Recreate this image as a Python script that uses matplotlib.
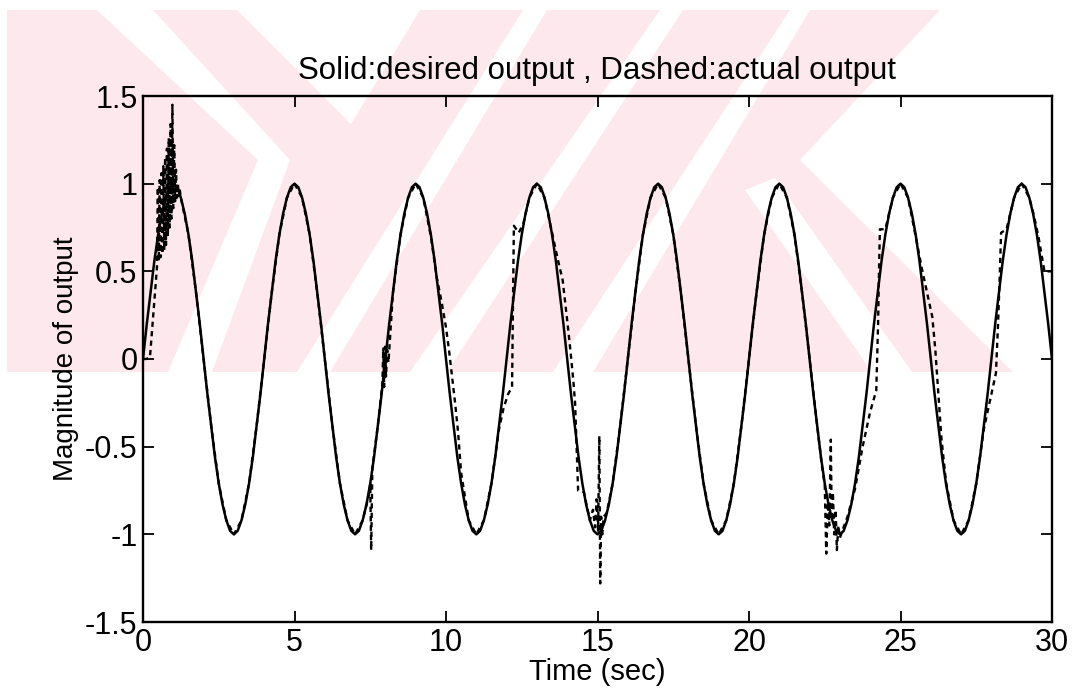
import matplotlib
matplotlib.use("Agg")
import matplotlib.pyplot as plt
from matplotlib.patches import Polygon

plt.rcParams['font.family'] = ['Liberation Sans', 'DejaVu Sans']
plt.rcParams['axes.unicode_minus'] = False

# desired output, read every 0.125 sec
t_des = [i * 0.125 for i in range(241)]
y_des = [0.00, 0.20, 0.38, 0.56, 0.71, 0.83, 0.92, 0.98, 1.00, 0.98, 0.92, 0.83, 0.71, 0.56, 0.38, 0.20,
         0.00, -0.20, -0.38, -0.56, -0.71, -0.83, -0.92, -0.98, -1.00, -0.98, -0.92, -0.83, -0.71, -0.56, -0.38, -0.20,
         0.00, 0.20, 0.38, 0.56, 0.71, 0.83, 0.92, 0.98, 1.00, 0.98, 0.92, 0.83, 0.71, 0.56, 0.38, 0.20,
         0.00, -0.20, -0.38, -0.56, -0.71, -0.83, -0.92, -0.98, -1.00, -0.98, -0.92, -0.83, -0.71, -0.56, -0.38, -0.20,
         0.00, 0.20, 0.38, 0.56, 0.71, 0.83, 0.92, 0.98, 1.00, 0.98, 0.92, 0.83, 0.71, 0.56, 0.38, 0.20,
         0.00, -0.20, -0.38, -0.56, -0.71, -0.83, -0.92, -0.98, -1.00, -0.98, -0.92, -0.83, -0.71, -0.56, -0.38, -0.20,
         0.00, 0.20, 0.38, 0.56, 0.71, 0.83, 0.92, 0.98, 1.00, 0.98, 0.92, 0.83, 0.71, 0.56, 0.38, 0.20,
         0.00, -0.20, -0.38, -0.56, -0.71, -0.83, -0.92, -0.98, -1.00, -0.98, -0.92, -0.83, -0.71, -0.56, -0.38, -0.20,
         0.00, 0.20, 0.38, 0.56, 0.71, 0.83, 0.92, 0.98, 1.00, 0.98, 0.92, 0.83, 0.71, 0.56, 0.38, 0.20,
         0.00, -0.20, -0.38, -0.56, -0.71, -0.83, -0.92, -0.98, -1.00, -0.98, -0.92, -0.83, -0.71, -0.56, -0.38, -0.20,
         0.00, 0.20, 0.38, 0.56, 0.71, 0.83, 0.92, 0.98, 1.00, 0.98, 0.92, 0.83, 0.71, 0.56, 0.38, 0.20,
         0.00, -0.20, -0.38, -0.56, -0.71, -0.83, -0.92, -0.98, -1.00, -0.98, -0.92, -0.83, -0.71, -0.56, -0.38, -0.20,
         0.00, 0.20, 0.38, 0.56, 0.71, 0.83, 0.92, 0.98, 1.00, 0.98, 0.92, 0.83, 0.71, 0.56, 0.38, 0.20,
         0.00, -0.20, -0.38, -0.56, -0.71, -0.83, -0.92, -0.98, -1.00, -0.98, -0.92, -0.83, -0.71, -0.56, -0.38, -0.20,
         0.00, 0.20, 0.38, 0.56, 0.71, 0.83, 0.92, 0.98, 1.00, 0.98, 0.92, 0.83, 0.71, 0.56, 0.38, 0.20,
         0.00]

# actual output (dashed)
t_act = [0.00, 0.10, 0.23, 0.46,
         0.49, 0.52, 0.55, 0.58, 0.61, 0.64, 0.67, 0.70, 0.73, 0.76, 0.79, 0.82, 0.85,
         0.88, 0.91, 0.94, 0.97, 1.00, 1.03, 1.06, 1.09, 1.12, 1.15, 1.18, 1.21, 1.25,
         1.50, 1.75, 2.00, 2.25, 2.50, 2.75, 3.00, 3.25, 3.50, 3.75, 4.00, 4.25, 4.50, 4.75,
         5.00, 5.25, 5.50, 5.75, 6.00, 6.25, 6.50, 6.75, 7.00, 7.25,
         7.45, 7.50, 7.53, 7.57, 7.75,
         7.90, 7.93, 7.96, 7.99, 8.02, 8.06, 8.10, 8.25, 8.50, 8.75, 9.00, 9.25, 9.50,
         9.70, 9.85, 10.00, 10.10, 10.20, 10.30, 10.40, 10.50, 10.75, 11.00, 11.25, 11.50,
         11.75, 11.90, 12.05, 12.18, 12.21, 12.24, 12.40, 12.55, 12.75, 13.00, 13.25,
         13.50, 13.70, 13.85, 14.00, 14.10, 14.20, 14.26, 14.31, 14.36, 14.55, 14.75,
         14.85, 14.92, 14.97, 15.02, 15.06, 15.09, 15.12, 15.16, 15.20, 15.30, 15.50, 15.75,
         16.00, 16.25, 16.50, 16.75, 17.00, 17.25, 17.50, 17.75, 18.00, 18.25, 18.50, 18.75,
         19.00, 19.25, 19.50, 19.75, 20.00, 20.25, 20.50, 20.75, 21.00, 21.25, 21.50, 21.75,
         22.00, 22.25, 22.40,
         22.50, 22.55, 22.60, 22.65, 22.70, 22.73, 22.77, 22.81, 22.86, 22.90, 22.95, 23.00,
         23.10, 23.25, 23.50, 23.75, 24.00, 24.20, 24.26, 24.29, 24.32, 24.50, 24.75, 25.00,
         25.25, 25.50, 25.70, 25.90, 26.05, 26.15, 26.25, 26.35, 26.50, 26.75, 27.00, 27.25,
         27.50, 27.75, 28.00, 28.15, 28.22, 28.27, 28.32, 28.50, 28.75, 29.00, 29.25,
         29.40, 29.55, 29.70, 29.75, 30.00]
y_act = [0.00, 0.00, 0.01, 0.52,
         0.98, 0.56, 1.02, 0.58, 1.06, 0.60, 1.10, 0.62, 1.15, 0.65, 1.20, 0.70, 1.26,
         0.75, 1.34, 0.80, 1.45, 0.86, 1.22, 0.90, 1.08, 0.92, 1.00, 0.93, 0.97, 0.92,
         0.71, 0.38, 0.00, -0.38, -0.71, -0.92, -1.00, -0.92, -0.71, -0.38, 0.00, 0.38, 0.71, 0.92,
         1.00, 0.92, 0.71, 0.38, 0.00, -0.38, -0.71, -0.92, -1.00, -0.92,
         -0.78, -0.71, -1.09, -0.62, -0.38,
         -0.14, 0.06, -0.16, 0.07, -0.10, 0.05, -0.02, 0.38, 0.71, 0.92, 1.00, 0.92, 0.70,
         0.46, 0.33, 0.18, 0.05, -0.10, -0.25, -0.42, -0.65, -0.92, -1.00, -0.92, -0.71,
         -0.40, -0.28, -0.20, -0.16, 0.30, 0.76, 0.72, 0.77, 0.92, 1.00, 0.92,
         0.72, 0.56, 0.45, 0.22, 0.06, -0.12, -0.25, -0.50, -0.75, -0.76, -0.92,
         -0.86, -0.96, -0.80, -0.98, -0.44, -1.28, -0.90, -1.00, -0.90, -0.88, -0.71, -0.38,
         0.00, 0.38, 0.71, 0.92, 1.00, 0.92, 0.71, 0.38, 0.00, -0.38, -0.71, -0.92,
         -1.00, -0.92, -0.71, -0.38, 0.00, 0.38, 0.71, 0.92, 1.00, 0.92, 0.71, 0.38,
         0.00, -0.38, -0.60,
         -0.72, -1.11, -0.82, -0.95, -0.46, -0.92, -0.76, -1.00, -0.86, -1.09, -0.95, -1.02,
         -0.97, -0.90, -0.74, -0.50, -0.30, -0.18, 0.20, 0.50, 0.74, 0.74, 0.92, 1.00,
         0.92, 0.70, 0.52, 0.36, 0.24, 0.05, -0.20, -0.45, -0.70, -0.92, -1.00, -0.92,
         -0.71, -0.40, -0.20, -0.08, 0.20, 0.45, 0.72, 0.74, 0.92, 1.00, 0.92,
         0.82, 0.70, 0.55, 0.50, 0.50]

x_ticks = [0, 5, 10, 15, 20, 25, 30]
y_ticks = [-1.5, -1, -0.5, 0, 0.5, 1, 1.5]
y_tick_labels = ['-1.5', '-1', '-0.5', '0', '0.5', '1', '1.5']

fig = plt.figure(figsize=(10.76, 6.92), dpi=100)

# pale watermark behind the plot (pixel coords)
bg = fig.add_axes([0, 0, 1, 1], zorder=0)
bg.set_xlim(0, 1076)
bg.set_ylim(692, 0)
bg.axis('off')
pink = '#fde8ed'
bg.add_patch(Polygon([(7, 10), (940, 10), (800, 160), (1013, 372), (7, 372)], closed=True, fc=pink, ec='none'))
white_parts = [
    [(97, 10), (153, 10), (290, 160), (212, 372), (168, 372), (258, 160)],
    [(237, 10), (420, 10), (351, 124)],
    [(523, 10), (547, 10), (330, 372), (297, 372)],
    [(660, 10), (683, 10), (447, 372), (410, 372)],
    [(790, 10), (810, 10), (593, 372), (553, 372)],
    [(745, 190), (775, 178), (912, 372), (872, 372)],
]
for pts in white_parts:
    bg.add_patch(Polygon(pts, closed=True, fc='white', ec='none'))

ax = fig.add_axes([143 / 1076, 70 / 692, 909 / 1076, 526 / 692], zorder=1)
ax.set_facecolor('none')

ax.plot(t_des, y_des, color='black', linewidth=1.8)
ax.plot(t_act, y_act, color='black', linewidth=1.7, linestyle=(0, (2.2, 1.8)))

ax.set_xlim(0, 30)
ax.set_ylim(-1.5, 1.5)
ax.set_xticks(x_ticks)
ax.set_yticks(y_ticks)
ax.set_yticklabels(y_tick_labels)
ax.tick_params(direction='in', top=True, right=True, length=8, width=1.3, labelsize=22, pad=4)
for s in ax.spines.values():
    s.set_linewidth(1.7)

ax.set_title('Solid:desired output , Dashed:actual output', fontsize=22.5, pad=12)
ax.set_xlabel('Time (sec)', fontsize=21, labelpad=0)
ax.set_ylabel('Magnitude of output', fontsize=20, labelpad=4)

fig.savefig('out.png', dpi=100)
